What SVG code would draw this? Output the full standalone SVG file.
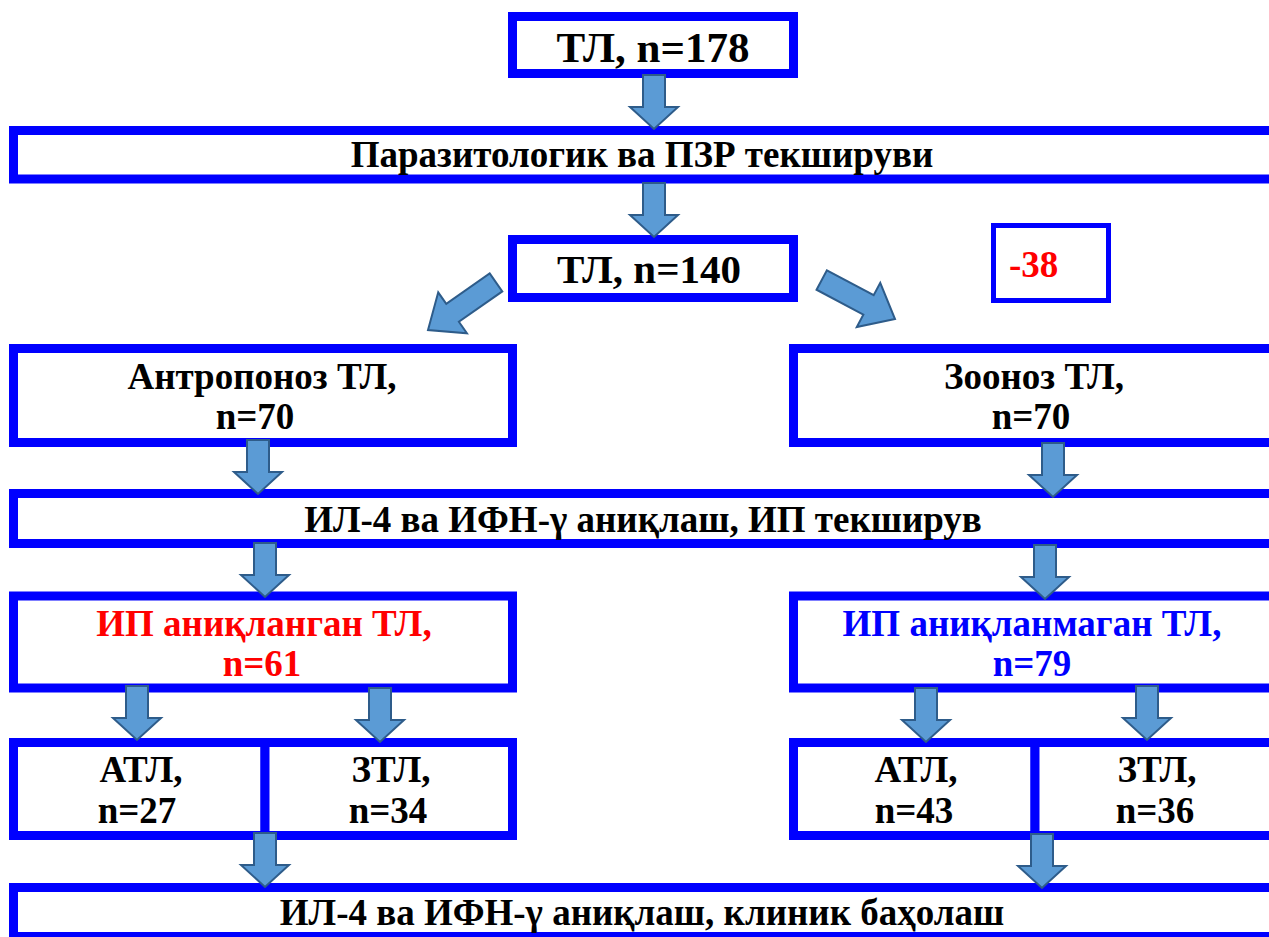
<svg xmlns="http://www.w3.org/2000/svg" width="1269" height="937" viewBox="0 0 1269 937">
<style>
.box{fill:#fff;stroke:#0000ff;stroke-width:9}
.thin{fill:#fff;stroke:#0000ff;stroke-width:5}
.t{font-size:37px;fill:#000;text-anchor:middle}
.big{font-size:43px}
.mid{font-size:41px}
.red{fill:#ff0000}
.blue{fill:#0000ff}
.arr{fill:#5b9bd5;stroke:#2e5c8a;stroke-width:2}
</style>
<defs>
<path id="a" class="arr" d="M-11,-54 H11 V-22 H24 L0,0 L-24,-22 H-11 Z"/>
<path id="d" class="arr" d="M-11,-83 H11 V-30 H25 L0,0 L-25,-30 H-11 Z"/>
</defs>
<rect width="1269" height="937" fill="#fff"/>
<g font-family="Liberation Serif" font-weight="bold">
<g id="n1"><rect class="box" x="512.5" y="16.5" width="281" height="57"/><text class="t big" x="653" y="62">ТЛ, n=178</text></g>
<g id="n2"><rect class="box" x="13.5" y="130.5" width="1270" height="48.5"/><text class="t" x="642" y="167">Паразитологик ва ПЗР текшируви</text></g>
<g id="n3"><rect class="box" x="512.5" y="239.5" width="281" height="58"/><text class="t mid" x="649" y="283">ТЛ, n=140</text></g>
<g id="n4"><rect class="thin" x="993.5" y="225.5" width="115" height="75"/><text class="t red" x="1009" y="277" style="text-anchor:start">-38</text></g>
<g id="n5"><rect class="box" x="13.5" y="348.5" width="499" height="94"/><text class="t" x="262" y="389">Антропоноз ТЛ,</text><text class="t" x="255" y="429">n=70</text></g>
<g id="n6"><rect class="box" x="793.5" y="348.5" width="490" height="94"/><text class="t" x="1034" y="389">Зооноз ТЛ,</text><text class="t" x="1031" y="429">n=70</text></g>
<g id="n7"><rect class="box" x="13.5" y="493.5" width="1270" height="50"/><text class="t" x="643" y="532">ИЛ-4 ва ИФН-γ аниқлаш, ИП текширув</text></g>
<g id="n8"><rect class="box" x="13.5" y="596" width="499" height="92"/><text class="t red" x="264" y="636">ИП аниқланган ТЛ,</text><text class="t red" x="262" y="676">n=61</text></g>
<g id="n9"><rect class="box" x="793.5" y="596" width="490" height="92"/><text class="t blue" x="1032" y="636">ИП аниқланмаган ТЛ,</text><text class="t blue" x="1032" y="676">n=79</text></g>
<g id="n10"><rect class="box" x="13.5" y="742.5" width="251.5" height="93"/><text class="t" x="141" y="782">АТЛ,</text><text class="t" x="137" y="823">n=27</text></g>
<g id="n11"><rect class="box" x="265" y="742.5" width="247.5" height="93"/><text class="t" x="391" y="782">ЗТЛ,</text><text class="t" x="388" y="823">n=34</text></g>
<g id="n12"><rect class="box" x="793.5" y="742.5" width="241.5" height="93"/><text class="t" x="916" y="782">АТЛ,</text><text class="t" x="914" y="823">n=43</text></g>
<g id="n13"><rect class="box" x="1035" y="742.5" width="248.5" height="93"/><text class="t" x="1157" y="782">ЗТЛ,</text><text class="t" x="1155" y="823">n=36</text></g>
<g id="n14"><rect class="box" x="13.5" y="887.5" width="1270" height="49"/><text class="t" x="642" y="925">ИЛ-4 ва ИФН-γ аниқлаш, клиник баҳолаш</text></g>
</g>
<g id="connectors">
<use href="#a" x="654" y="129"/>
<use href="#a" x="654" y="237"/>
<use href="#d" transform="translate(428,330) rotate(55)"/>
<use href="#d" transform="translate(895,319) rotate(-62)"/>
<use href="#a" x="258" y="494"/>
<use href="#a" x="1053" y="497"/>
<use href="#a" x="265" y="597"/>
<use href="#a" x="1045" y="599"/>
<use href="#a" x="137" y="740"/>
<use href="#a" x="380" y="742"/>
<use href="#a" x="926" y="742"/>
<use href="#a" x="1147" y="740"/>
<use href="#a" x="265" y="887"/>
<use href="#a" x="1042" y="888"/>
</g>
</svg>
